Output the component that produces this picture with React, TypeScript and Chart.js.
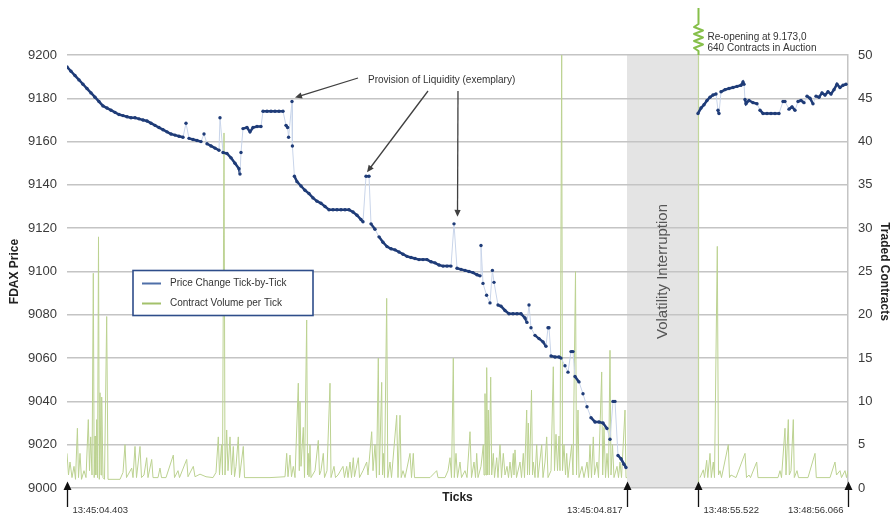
import React, { useEffect, useRef } from "react";
import { Chart, registerables } from "chart.js";

Chart.register(...registerables);

// ---- Price trace (tick number, FDAX price) ----
const priceTicks: number[] = [
  0, 2, 4, 6, 8, 10, 12, 14, 16, 18, 20, 22, 24, 26, 28, 30, 32, 34, 36, 38, 40,
  42, 44, 46, 48, 50, 52, 54, 56, 58, 59.5, 61, 63, 65, 67, 68.5, 70, 72, 74, 76,
  76.5, 78, 80, 82, 84, 86, 86.5, 87, 88, 90, 91.5, 93, 95, 97, 98, 100, 102, 104,
  106, 108, 109.5, 110.3, 110.8, 112.5, 112.7, 113.7, 115, 117, 119, 121, 123, 125,
  127, 129, 131, 133, 135, 137, 139, 141, 143, 145, 147, 148, 149.5, 151, 152, 154,
  156, 158, 160, 162, 164, 166, 168, 170, 172, 174, 176, 178, 180, 182, 184, 186,
  188, 190, 192, 193.5, 195, 197, 199, 201, 203, 205, 206.5, 207, 208, 209.8, 211.5,
  212.7, 213.5, 215.5, 217, 219, 221, 223, 225, 227, 229, 230, 231, 232, 234, 236,
  238, 239.5, 240.5, 241, 242, 244, 246, 247, 249, 250.5, 252, 253, 254, 256, 258,
  260, 262, 264, 266, 268, 270, 271.5, 273, 274, 275.5, 277, 278.5, 279.5,
  297,
  315.5, 317, 318.5, 320, 321.5, 323, 324.5, 325.5, 326, 327, 329, 331, 333, 335,
  337, 338, 338.5, 339, 339.5, 341, 343, 345, 346.5, 348, 350, 352, 354, 356, 358,
  359, 361, 362.5, 364, 365.5, 367, 368.5, 370, 371.5, 373, 374.5, 376, 377.5, 379,
  380.5, 382, 383.5, 385, 386.5, 388, 389.5,
];
const priceValues: (number | null)[] = [
  9194.5, 9192.5, 9190.5, 9188.5, 9186.5, 9184.5, 9182.5, 9180.5, 9178.5, 9176.5,
  9175.5, 9174.5, 9173.5, 9172.5, 9172, 9171.5, 9171, 9171, 9170.5, 9170, 9169.5,
  9168.5, 9167.5, 9166.5, 9165.5, 9164.5, 9163.5, 9163, 9162.5, 9162, 9168.5, 9161.5,
  9161, 9160.5, 9160, 9163.5, 9159, 9158, 9157, 9156, 9171, 9155, 9154.5, 9152.5,
  9150, 9147.5, 9145, 9155, 9166, 9166.5, 9164.5, 9166.5, 9167, 9167, 9174, 9174,
  9174, 9174, 9174, 9174, 9167.5, 9166.5, 9162, 9178.5, 9158, 9144, 9141.5, 9139.5,
  9137.5, 9136, 9134, 9132.5, 9131.5, 9130, 9128.5, 9128.5, 9128.5, 9128.5, 9128.5,
  9128.5, 9127.5, 9126, 9124, 9123, 9144, 9144, 9122, 9119.5, 9116, 9113.5, 9111.5,
  9110.5, 9110, 9109, 9108, 9107, 9106.5, 9106, 9105.5, 9105.5, 9105.5, 9104.5, 9104,
  9103, 9102.5, 9102.5, 9102.5, 9122, 9101.5, 9101, 9100.5, 9100, 9099.5, 9098.5,
  9098, 9112, 9094.5, 9089, 9085.5, 9100.5, 9095, 9084.5, 9084, 9082, 9080.5, 9080.5,
  9080.5, 9080.5, 9078.5, 9076.5, 9084.5, 9074, 9070.5, 9069, 9067.5, 9065.5, 9074,
  9074, 9061, 9060.5, 9060.5, 9060, 9056.5, 9053.5, 9063, 9063, 9051.5, 9049, 9043.5,
  9037.5, 9032.5, 9030.5, 9030.5, 9030, 9027.5, 9022.5, 9040, 9040, 9015, 9013.5,
  9011, 9009.5,
  null,
  9173, 9175.5, 9177, 9179, 9180.5, 9181.5, 9182, 9174.5, 9173, 9183, 9184, 9184.5,
  9185, 9185.5, 9186, 9187.5, 9186.5, 9179.5, 9177.5, 9179, 9178, 9177.5, 9174.5,
  9173, 9173, 9173, 9173, 9173, 9178.5, 9178.5, 9175, 9176, 9174.5, 9178.5, 9179,
  9178, 9181, 9180, 9177.5, 9181, 9180.5, 9182.5, 9181.5, 9183, 9182, 9184, 9186.5,
  9185, 9186, 9186.5,
];

// ---- Contract volume per tick ----
const volumeTicks: number[] = [
  0, 0.75, 1.5, 2.5, 3.5, 4.25, 5.2, 5.75, 6.5, 7.25, 8.5, 9.5, 10.65, 11.25, 11.85,
  12.5, 13.15, 13.6, 14, 14.4, 14.85, 15.25, 15.75, 16.15, 16.5, 17, 17.35, 18, 18.75,
  19.85, 20.5, 26.5, 28, 29, 29.75, 32.35, 33, 34, 34.75, 36.5, 37.25, 38.5, 39.85,
  40.5, 42.35, 43, 45.5, 46.5, 47.25, 49.5, 53.15, 53.75, 55.5, 56.25, 59.85, 60.5,
  63.15, 64, 66.5, 69.5, 73, 74.5, 75.65, 76.25, 77.25, 77.75, 78.5, 79, 79.85, 80.5,
  81.5, 82.25, 83.15, 83.75, 84.5, 85.65, 86.25, 88.15, 88.75, 90.5, 94, 101.5, 109,
  109.85, 110.5, 111.5, 112.25, 113.15, 114, 115.65, 116.15, 116.5, 117, 118.15,
  118.75, 119.85, 120.25, 120.65, 121, 121.5, 122, 124, 125.65, 126.25, 127, 128.15,
  128.75, 130, 131.5, 132, 133.5, 134.25, 135.5, 138, 138.75, 139.85, 140.5, 141.5,
  142.25, 143.15, 143.75, 145.65, 146.25, 148, 149.85, 150.5, 152.35, 153, 154,
  154.75, 155.65, 156.15, 157.35, 157.75, 158.15, 158.75, 159.85, 160.4, 161.5,
  162.25, 164.85, 165.5, 166.5, 167.1, 168, 169, 171.5, 172.25, 173.15, 173.75, 176.5,
  181.5, 184.85, 185.5, 189, 190.5, 191.5, 192.25, 193.15, 193.65, 194.5, 195.25,
  196.5, 197.25, 199, 200, 201.5, 202.25, 203.5, 204.25, 204.85, 205.5, 207, 208.15,
  208.5, 209, 209.5, 209.85, 210.25, 210.65, 211.1, 211.85, 212.35, 213.15, 213.75,
  214.85, 215.5, 216.5, 217.25, 218.15, 219, 220, 220.75, 221.5, 222.25, 223.15,
  223.5, 224, 224.75, 226.5, 227.25, 228.15, 228.75, 229.85, 230.25, 230.65, 231.25,
  232.25, 232.75, 233.15, 234, 234.85, 235.5, 237.35, 238, 239, 239.85, 240.5, 242,
  243.15, 243.75, 244.5, 245.25, 246, 246.5, 247.35, 247.75, 248.5, 249.25, 249.85,
  250.5, 252.35, 253, 254.25, 254.75, 255.5, 256, 257.5, 258.5, 260, 260.75, 261.5,
  262.25, 263.15, 263.75, 265, 265.75, 267.35, 267.85, 268.5, 269.25, 270, 270.75,
  271.5, 272, 272.75, 273.5, 275, 275.75, 276.5, 277.25, 279, 279.5, 280,
  297,
  316.5, 318.15, 318.75, 319.85, 320.4, 321.5, 322.15, 323.15, 323.75, 325.15, 325.75,
  326.5, 327.25, 330.65, 331.25, 332, 334.5, 339, 339.75, 341, 341.75, 344.85, 345.5,
  351.5, 355.5, 356.5, 357.25, 359, 359.5, 360.65, 361.15, 362, 363.15, 363.65, 365,
  365.75, 370.5, 374, 374.65, 379, 381.5, 384, 384.75, 386.5, 387.25, 389, 389.75,
  390.5,
];
const volumeValues: (number | null)[] = [
  4, 1.5, 3, 1.2, 2.5, 1, 6.9, 1.2, 4, 1, 2, 1.2, 7.9, 2, 5.9, 1.5, 24.8, 1.2, 6, 1.5,
  7.9, 1.2, 29, 1, 11, 1.5, 10.5, 1.2, 1, 19.8, 1, 1, 1.8, 5, 1.2, 2.3, 1.2, 4.8, 1.2,
  4.8, 1.2, 1.5, 3.5, 1.2, 3.3, 1.2, 1.2, 2.3, 1.2, 1.2, 3.8, 1.2, 2, 1.2, 3.3, 1.3,
  2.5, 1.3, 1.6, 1.3, 1.2, 1.8, 5.9, 1.5, 5, 1.5, 41, 1.5, 6.7, 2, 5.9, 1.5, 4.8, 1.3,
  2.5, 5.9, 1.2, 4.8, 1.2, 1.2, 1.2, 1.2, 1.3, 4, 1.3, 3.8, 1.3, 2.5, 1.2, 12.1, 2, 10,
  2.5, 7, 1.2, 19.4, 1.5, 4, 1.3, 5, 1.2, 2, 5.5, 1.5, 2, 4, 1.2, 2, 12.1, 1.2, 2.5,
  1.2, 1.5, 2.5, 1.2, 2.5, 1.2, 3, 1.2, 3.5, 1.3, 3.5, 1.2, 2, 3, 1.5, 6.5, 2, 5, 1.2,
  15, 1.5, 12.2, 1.5, 4, 1.2, 21.9, 1.2, 3, 1.2, 8.4, 1.2, 8.4, 1.2, 2, 1.2, 4, 1.2,
  4, 1.2, 1.2, 1.2, 2, 1.2, 1.2, 2, 3.5, 1.2, 15, 1.2, 4, 1.2, 3, 1.2, 2, 1.2, 6.5,
  1.2, 3, 1.2, 4, 1.2, 2.5, 5, 1.5, 10.9, 1.5, 13.9, 1.5, 9, 1.5, 12.8, 1.5, 4, 1.2,
  3.5, 1.2, 5, 1.2, 4, 1.5, 2.5, 1.2, 3, 1.2, 4, 1.5, 4.4, 1.2, 3, 1.2, 4, 1.2, 9, 1.5,
  7.5, 1.5, 11.3, 1.5, 3, 1.2, 5, 1.2, 5, 1.2, 3, 5.9, 1.2, 2, 14, 2, 6.2, 2, 6, 2, 50,
  2, 5, 1.5, 4, 1.2, 5, 1.5, 25, 1.5, 9, 1.2, 2.5, 1.2, 3, 1.2, 5, 1.2, 5.9, 1.5, 3,
  1.2, 13.4, 1.5, 7, 1.2, 4, 1.2, 15.9, 1.5, 5, 1.2, 2.5, 1.2, 3, 1.2, 9, 1.2, 1.2,
  null,
  1.2, 2.1, 1.2, 3.2, 1.2, 4, 1.2, 3, 1.2, 27.9, 1.5, 2, 1.2, 5, 1.2, 1.5, 1.2, 4,
  1.2, 1.5, 1.2, 3, 1.2, 1.2, 1.2, 2, 1.2, 6.9, 1.5, 7.9, 1.5, 2, 7.9, 1.2, 2, 1.2,
  1.2, 4, 1.2, 1.2, 1.2, 3, 1.5, 2, 1.2, 2, 1.2, 2,
];

// ---- Axes / annotations ----
const priceMin = 9000;
const priceMax = 9200;
const priceStep = 20;
const volumeMin = 0;
const volumeMax = 50;
const volumeStep = 5;
const tickMin = 0;
const tickMax = 390.5;
const interruptionStart = 280;
const interruptionEnd = 315.5;
const markerTicks = [0, 280, 315.5, 390.5];
const markerLabels = ["13:45:04.403", "13:45:04.817", "13:48:55.522", "13:48:56.066"];
const markerAlign: ("left" | "right")[] = ["left", "right", "left", "right"];
const liquidityTicks = [112.5, 150, 193.5];
const liquidityPrices = [9178.5, 9144, 9122];
const reopenText = ["Re-opening at 9.173,0", "640 Contracts in Auction"];

const FONT = "'Liberation Sans', Arial, sans-serif";
const DOT = "#1f3c78";
const PALE = "#c9d5ea";

function isJump(ctx: any) {
  const a = ctx.p0.parsed.y;
  const b = ctx.p1.parsed.y;
  return Math.abs(a - b) > 2.6;
}

function arrow(ctx: CanvasRenderingContext2D, x1: number, y1: number, x2: number, y2: number, head = 7, color = "#404040") {
  const ang = Math.atan2(y2 - y1, x2 - x1);
  ctx.save();
  ctx.strokeStyle = color;
  ctx.fillStyle = color;
  ctx.lineWidth = 1.3;
  ctx.beginPath();
  ctx.moveTo(x1, y1);
  ctx.lineTo(x2 - Math.cos(ang) * head * 0.8, y2 - Math.sin(ang) * head * 0.8);
  ctx.stroke();
  ctx.beginPath();
  ctx.moveTo(x2, y2);
  ctx.lineTo(x2 - Math.cos(ang) * head + Math.sin(ang) * head * 0.45, y2 - Math.sin(ang) * head - Math.cos(ang) * head * 0.45);
  ctx.lineTo(x2 - Math.cos(ang) * head - Math.sin(ang) * head * 0.45, y2 - Math.sin(ang) * head + Math.cos(ang) * head * 0.45);
  ctx.closePath();
  ctx.fill();
  ctx.restore();
}

const overlay = {
  id: "overlay",
  beforeDraw(chart: any) {
    const { ctx, chartArea, scales } = chart;
    const x0 = scales.x.getPixelForValue(interruptionStart);
    const x1 = scales.x.getPixelForValue(interruptionEnd);
    ctx.save();
    ctx.fillStyle = "#e4e4e4";
    ctx.fillRect(x0, chartArea.top, x1 - x0, chartArea.bottom - chartArea.top);
    ctx.restore();
  },
  beforeDatasetsDraw(chart: any) {
    const { ctx, chartArea, scales } = chart;
    const x = Math.round(scales.x.getPixelForValue(interruptionEnd)) + 0.5;
    ctx.save();
    ctx.strokeStyle = "#c2d79b";
    ctx.lineWidth = 1.2;
    ctx.beginPath();
    ctx.moveTo(x, chartArea.top);
    ctx.lineTo(x, chartArea.bottom);
    ctx.stroke();
    ctx.restore();
  },
  afterDatasetsDraw(chart: any) {
    const { ctx, chartArea, scales } = chart;
    const xs = scales.x;
    const ys = scales.y;

    // Volatility interruption label
    const bx = (xs.getPixelForValue(interruptionStart) + xs.getPixelForValue(interruptionEnd)) / 2;
    const by = (chartArea.top + chartArea.bottom) / 2;
    ctx.save();
    ctx.translate(bx, by);
    ctx.rotate(-Math.PI / 2);
    ctx.fillStyle = "#555555";
    ctx.font = `15px ${FONT}`;
    ctx.textAlign = "center";
    ctx.textBaseline = "middle";
    ctx.fillText("Volatility Interruption", 0, 0);
    ctx.restore();

    // Re-opening auction line with break symbol
    const rx = Math.round(xs.getPixelForValue(interruptionEnd)) + 0.5;
    ctx.save();
    ctx.strokeStyle = "#86bf4a";
    ctx.lineWidth = 2;
    ctx.lineJoin = "round";
    ctx.beginPath();
    ctx.moveTo(rx, 8);
    ctx.lineTo(rx, 24);
    const zig = [27, 30.5, 34, 37.5, 41, 44.5, 48];
    zig.forEach((y, i) => ctx.lineTo(rx + (i % 2 === 0 ? -4.5 : 4.5), y));
    ctx.lineTo(rx, 51);
    ctx.lineTo(rx, chartArea.top);
    ctx.stroke();
    ctx.fillStyle = "#333333";
    ctx.font = `10px ${FONT}`;
    ctx.textAlign = "left";
    ctx.textBaseline = "middle";
    ctx.fillText(reopenText[0], rx + 9, 37);
    ctx.fillText(reopenText[1], rx + 9, 48);
    ctx.restore();

    // Provision of liquidity annotation
    ctx.save();
    ctx.fillStyle = "#333333";
    ctx.font = `10px ${FONT}`;
    ctx.textAlign = "left";
    ctx.textBaseline = "middle";
    ctx.fillText("Provision of Liquidity (exemplary)", 368, 80);
    ctx.restore();
    const starts = [
      [358, 78],
      [428, 91],
      [458, 91],
    ];
    const offs = [
      [3, -4],
      [0, -4],
      [3.5, -7],
    ];
    liquidityTicks.forEach((t, i) => {
      const px = xs.getPixelForValue(t) + offs[i][0];
      const py = ys.getPixelForValue(liquidityPrices[i]) + offs[i][1];
      arrow(ctx, starts[i][0], starts[i][1], px, py, 7, "#404040");
    });

    // Legend
    ctx.save();
    ctx.fillStyle = "#ffffff";
    ctx.fillRect(133, 270.5, 180, 45);
    ctx.strokeStyle = "#2e4d8a";
    ctx.lineWidth = 1.6;
    ctx.strokeRect(133, 270.5, 180, 45);
    chart.data.datasets.forEach((ds: any, i: number) => {
      const y = 283.5 + i * 20;
      ctx.strokeStyle = ds.legendColor;
      ctx.lineWidth = 2;
      ctx.beginPath();
      ctx.moveTo(142, y);
      ctx.lineTo(161, y);
      ctx.stroke();
      ctx.fillStyle = "#333333";
      ctx.font = `10px ${FONT}`;
      ctx.textAlign = "left";
      ctx.textBaseline = "middle";
      ctx.fillText(ds.label, 170, y);
    });
    ctx.restore();

    // Time markers at the bottom
    ctx.save();
    markerTicks.forEach((t, i) => {
      const x = Math.round(xs.getPixelForValue(t)) + 0.5;
      ctx.strokeStyle = "#111111";
      ctx.fillStyle = "#111111";
      ctx.lineWidth = 1.3;
      ctx.beginPath();
      ctx.moveTo(x, 507);
      ctx.lineTo(x, 489);
      ctx.stroke();
      ctx.beginPath();
      ctx.moveTo(x, 481.5);
      ctx.lineTo(x - 4, 490);
      ctx.lineTo(x + 4, 490);
      ctx.closePath();
      ctx.fill();
      ctx.fillStyle = "#333333";
      ctx.font = `9.5px ${FONT}`;
      ctx.textBaseline = "middle";
      ctx.textAlign = markerAlign[i];
      ctx.fillText(markerLabels[i], markerAlign[i] === "left" ? x + 5 : x - 5, 510);
    });
    ctx.restore();
  },
};

export default function App() {
  const ref = useRef<HTMLCanvasElement>(null);
  useEffect(() => {
    const canvas = ref.current!;
    const priceData = priceTicks.map((x, i) => ({ x, y: priceValues[i] }));
    const volumeData = volumeTicks.map((x, i) => ({ x, y: volumeValues[i] }));
    const chart = new Chart(canvas, {
      type: "line",
      data: {
        datasets: [
          {
            label: "Price Change Tick-by-Tick",
            data: priceData as any,
            yAxisID: "y",
            borderColor: DOT,
            legendColor: "#4f6fa8",
            borderWidth: 2.5,
            pointRadius: 1.7,
            pointHoverRadius: 1.7,
            pointBackgroundColor: DOT,
            pointBorderWidth: 0,
            tension: 0,
            spanGaps: false,
            segment: {
              borderColor: (c: any) => (isJump(c) ? PALE : DOT),
              borderWidth: (c: any) => (isJump(c) ? 1 : 2.5),
            },
          } as any,
          {
            label: "Contract Volume per Tick",
            data: volumeData as any,
            yAxisID: "y1",
            borderColor: "#bcd291",
            legendColor: "#a3c16b",
            borderWidth: 1,
            pointRadius: 0,
            pointHoverRadius: 0,
            tension: 0,
            spanGaps: false,
          } as any,
        ],
      },
      options: {
        responsive: false,
        animation: false,
        devicePixelRatio: 1,
        events: [],
        layout: { padding: { top: 55, left: 0, right: 0, bottom: 0 } },
        plugins: { legend: { display: false }, tooltip: { enabled: false } },
        scales: {
          x: {
            type: "linear",
            min: tickMin,
            max: tickMax,
            ticks: { display: false },
            grid: { display: false },
            border: { display: false },
            title: {
              display: true,
              text: "Ticks",
              color: "#222222",
              font: { family: FONT, size: 12, weight: "bold" },
              padding: { top: 0, bottom: 11 },
            },
            afterFit: (s: any) => {
              s.height = 28;
            },
          },
          y: {
            position: "left",
            min: priceMin,
            max: priceMax,
            ticks: {
              stepSize: priceStep,
              padding: 10,
              color: "#3a3a3a",
              font: { family: FONT, size: 13 },
              callback: (v: any) => String(v),
            },
            grid: { color: "#c4c4c4", lineWidth: 1.5, drawTicks: false },
            border: { display: false },
            title: {
              display: true,
              text: "FDAX Price",
              color: "#222222",
              font: { family: FONT, size: 12, weight: "bold" },
              padding: { top: 7, bottom: 0 },
            },
            afterFit: (s: any) => {
              s.width = 67;
            },
          },
          y1: {
            position: "right",
            min: volumeMin,
            max: volumeMax,
            ticks: {
              stepSize: volumeStep,
              padding: 10,
              color: "#3a3a3a",
              font: { family: FONT, size: 13 },
              callback: (v: any) => String(v),
            },
            grid: { drawOnChartArea: false, drawTicks: false },
            border: { display: true, color: "#c4c4c4", width: 1.5 },
            title: {
              display: true,
              text: "Traded Contracts",
              color: "#222222",
              font: { family: FONT, size: 12, weight: "bold" },
              padding: { top: 3, bottom: 0 },
            },
            afterFit: (s: any) => {
              s.width = 47;
            },
          },
        },
      } as any,
      plugins: [overlay],
    });
    return () => chart.destroy();
  }, []);
  return (
    <div style={{ position: "absolute", left: 0, top: 0, width: 895, height: 516, background: "#ffffff" }}>
      <canvas ref={ref} width={895} height={516} style={{ display: "block", width: 895, height: 516 }} />
    </div>
  );
}
